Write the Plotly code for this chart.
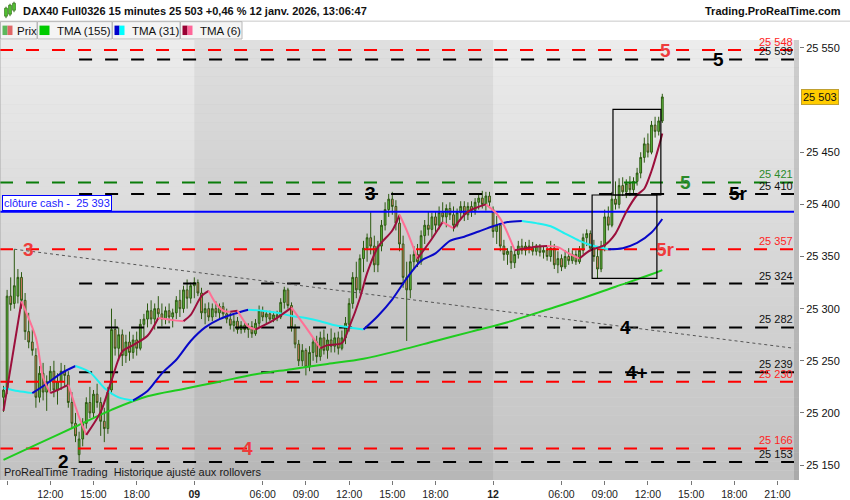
import plotly.graph_objects as go

# DAX40 Full0326, 15-minute bars, 8 janv. 08:45 -> 12 janv. 13:00.
# x of a bar = its index (closed-market hours are skipped, as on the original chart)
opens = [
    25215, 25222, 25312, 25305, 25312, 25330, 25308, 25278, 25268, 25255,
    25215, 25238, 25220, 25230, 25240, 25222, 25230, 25240, 25236, 25210,
    25190, 25160, 25175, 25190, 25210, 25200, 25218, 25210, 25192, 25185,
    25222, 25280, 25262, 25275, 25255, 25268, 25258, 25270, 25262, 25285,
    25290, 25298, 25290, 25300, 25295, 25290, 25298, 25292, 25296, 25308,
    25300, 25318, 25310, 25322, 25325, 25315, 25296, 25300, 25292, 25300,
    25296, 25302, 25295, 25290, 25284, 25288, 25280, 25284, 25280, 25283,
    25276, 25286, 25298, 25292, 25295, 25290, 25294, 25292, 25306, 25318,
    25303, 25282, 25266, 25250, 25260, 25244, 25258, 25268, 25254, 25272,
    25260, 25270, 25264, 25272, 25262, 25272, 25285, 25305, 25330, 25318,
    25348, 25358, 25368, 25360, 25342, 25360, 25380, 25395, 25405, 25398,
    25382, 25362, 25330, 25318, 25345, 25352, 25345, 25370, 25380, 25376,
    25388, 25380, 25392, 25388, 25396, 25390, 25380, 25392, 25398, 25390,
    25398, 25394, 25402, 25406, 25400, 25408, 25395, 25374, 25380, 25360,
    25352, 25355, 25344, 25352, 25360, 25356, 25360, 25358, 25355, 25360,
    25354, 25356, 25350, 25358, 25342, 25348, 25340, 25350, 25346, 25352,
    25345, 25356, 25368, 25372, 25358, 25350, 25338, 25360, 25388, 25380,
    25405, 25400, 25418, 25412, 25420, 25414, 25422, 25430, 25445, 25458,
    25450, 25476, 25470, 25480,
]
highs = [
    25226, 25318, 25330, 25357, 25338, 25335, 25315, 25296, 25280, 25262,
    25245, 25248, 25236, 25245, 25250, 25238, 25248, 25246, 25240, 25220,
    25200, 25182, 25195, 25215, 25225, 25222, 25228, 25215, 25205, 25225,
    25300, 25290, 25282, 25280, 25275, 25278, 25275, 25278, 25290, 25295,
    25305, 25308, 25305, 25312, 25305, 25302, 25305, 25300, 25312, 25318,
    25322, 25328, 25325, 25330, 25328, 25320, 25305, 25306, 25305, 25307,
    25305, 25306, 25300, 25296, 25294, 25292, 25288, 25287, 25286, 25288,
    25290, 25303, 25302, 25298, 25298, 25297, 25298, 25310, 25321, 25320,
    25306, 25285, 25270, 25266, 25262, 25264, 25272, 25274, 25278, 25280,
    25276, 25281, 25277, 25278, 25279, 25292, 25310, 25335, 25345, 25352,
    25365, 25372, 25393, 25370, 25365, 25385, 25402, 25410, 25412, 25404,
    25390, 25370, 25345, 25352, 25360, 25362, 25375, 25385, 25393, 25392,
    25393, 25398, 25402, 25400, 25402, 25398, 25396, 25403, 25403, 25402,
    25403, 25406, 25410, 25413, 25412, 25412, 25398, 25389, 25382, 25366,
    25358, 25360, 25356, 25365, 25367, 25364, 25366, 25364, 25362, 25362,
    25360, 25360, 25365, 25362, 25355, 25352, 25356, 25358, 25356, 25356,
    25360, 25372, 25376, 25375, 25366, 25360, 25365, 25395, 25398, 25412,
    25422, 25425, 25426, 25424, 25427, 25426, 25435, 25450, 25464, 25468,
    25480, 25484, 25484, 25506,
]
lows = [
    25201, 25218, 25298, 25300, 25305, 25300, 25270, 25262, 25255, 25205,
    25210, 25212, 25202, 25220, 25215, 25208, 25222, 25225, 25205, 25185,
    25172, 25152, 25168, 25185, 25195, 25195, 25205, 25178, 25172, 25180,
    25218, 25255, 25250, 25245, 25248, 25250, 25252, 25255, 25260, 25272,
    25282, 25285, 25280, 25290, 25283, 25285, 25286, 25282, 25290, 25292,
    25296, 25300, 25305, 25310, 25312, 25290, 25285, 25288, 25288, 25292,
    25290, 25291, 25286, 25280, 25278, 25276, 25276, 25277, 25272, 25272,
    25274, 25282, 25288, 25286, 25288, 25287, 25288, 25290, 25300, 25300,
    25278, 25262, 25245, 25245, 25236, 25240, 25250, 25248, 25250, 25256,
    25252, 25258, 25258, 25256, 25260, 25266, 25278, 25300, 25310, 25315,
    25335, 25345, 25352, 25335, 25335, 25355, 25375, 25388, 25390, 25375,
    25355, 25320, 25269, 25310, 25338, 25340, 25342, 25362, 25370, 25368,
    25372, 25376, 25382, 25378, 25385, 25374, 25378, 25386, 25384, 25385,
    25388, 25390, 25395, 25396, 25394, 25398, 25368, 25362, 25355, 25346,
    25342, 25338, 25339, 25348, 25352, 25351, 25353, 25351, 25351, 25350,
    25348, 25346, 25345, 25338, 25334, 25336, 25338, 25342, 25343, 25342,
    25343, 25352, 25360, 25355, 25345, 25329, 25335, 25355, 25375, 25378,
    25395, 25396, 25408, 25406, 25408, 25410, 25418, 25425, 25440, 25445,
    25448, 25464, 25466, 25478,
]
closes = [
    25222, 25312, 25304, 25322, 25330, 25308, 25278, 25268, 25260, 25215,
    25238, 25220, 25230, 25240, 25222, 25230, 25240, 25236, 25210, 25190,
    25178, 25175, 25190, 25210, 25200, 25218, 25210, 25192, 25185, 25220,
    25280, 25262, 25275, 25255, 25268, 25258, 25270, 25262, 25285, 25290,
    25298, 25290, 25300, 25295, 25290, 25298, 25292, 25296, 25308, 25300,
    25318, 25310, 25322, 25325, 25315, 25296, 25300, 25292, 25300, 25296,
    25302, 25295, 25290, 25284, 25288, 25280, 25284, 25280, 25283, 25276,
    25286, 25298, 25292, 25295, 25290, 25294, 25292, 25306, 25318, 25303,
    25282, 25266, 25250, 25260, 25244, 25258, 25268, 25254, 25272, 25260,
    25270, 25264, 25272, 25262, 25272, 25286, 25305, 25330, 25318, 25348,
    25358, 25368, 25360, 25342, 25360, 25380, 25395, 25405, 25398, 25382,
    25362, 25330, 25318, 25345, 25352, 25345, 25370, 25380, 25376, 25388,
    25380, 25392, 25388, 25396, 25390, 25380, 25392, 25398, 25390, 25398,
    25394, 25402, 25406, 25400, 25408, 25402, 25374, 25380, 25360, 25352,
    25355, 25344, 25352, 25360, 25356, 25360, 25358, 25355, 25360, 25354,
    25356, 25350, 25358, 25342, 25348, 25340, 25350, 25346, 25352, 25345,
    25356, 25368, 25372, 25358, 25350, 25338, 25360, 25388, 25380, 25405,
    25400, 25418, 25412, 25420, 25414, 25422, 25430, 25445, 25458, 25450,
    25476, 25470, 25480, 25503,
]
last_price = 25503

# first bar of the 9 and 12 janv. sessions
session_start_bars = [53, 136]

# time axis
xtick_bars = [1, 13, 25, 37, 53, 72, 84, 96, 108, 120, 136, 155, 167, 179, 191, 203, 215]
xtick_text = ["", "12:00", "15:00", "18:00", "<b>09</b>", "06:00", "09:00", "12:00",
              "15:00", "18:00", "<b>12</b>", "06:00", "09:00", "12:00", "15:00", "18:00", "21:00"]
# 25 500 is hidden behind the last-price tag on the original
ytick_vals = [25150, 25200, 25250, 25300, 25350, 25400, 25450, 25550]

# indicators
tma155_bars = [0, 10, 20, 30, 40, 50, 60, 70, 80, 90, 100, 110, 120, 130, 140, 150, 160, 170, 180, 183]
tma155_vals = [25155, 25171, 25187, 25203, 25216, 25223, 25230, 25237, 25242, 25247,
               25252, 25260, 25269, 25278, 25287, 25298, 25309, 25321, 25333, 25337]

tma31_bars = [0, 4, 8, 12, 16, 20, 24, 28, 32, 36, 40, 44, 48, 52, 56, 60, 64, 68, 72, 76,
              80, 84, 88, 92, 96, 100, 104, 108, 112, 116, 120, 124, 128, 132, 136, 140,
              144, 148, 152, 156, 160, 164, 168, 172, 176, 180, 183]
tma31_vals = [25224, 25221, 25219, 25228, 25238, 25245, 25239, 25224, 25215, 25212,
              25221, 25238, 25251, 25269, 25282, 25290, 25295, 25299, 25298, 25296,
              25293, 25291, 25288, 25284, 25282, 25280, 25293, 25309, 25329, 25346,
              25353, 25365, 25369, 25374, 25379, 25383, 25384, 25382, 25379, 25372,
              25365, 25360, 25357, 25358, 25363, 25373, 25386]

tma6_bars = [0, 5, 9, 11, 13, 15, 18, 21, 23, 27, 30, 33, 36, 40, 43, 47, 50, 52, 55, 57,
             59, 61, 63, 65, 68, 70, 75, 80, 84, 88, 90, 94, 96, 99, 101, 104, 108, 110,
             112, 115, 119, 122, 125, 129, 134, 137, 139, 142, 147, 151, 154, 157, 160,
             163, 167, 170, 173, 176, 178, 180, 182, 183]
tma6_vals = [25202, 25307, 25272, 25234, 25219, 25222, 25227, 25196, 25179, 25201,
             25231, 25259, 25265, 25274, 25291, 25289, 25288, 25294, 25312, 25317,
             25305, 25298, 25297, 25298, 25283, 25280, 25289, 25301, 25282, 25262,
             25265, 25267, 25282, 25310, 25334, 25359, 25375, 25390, 25375, 25348,
             25367, 25383, 25377, 25393, 25400, 25391, 25380, 25356, 25359, 25360,
             25359, 25353, 25348, 25356, 25361, 25372, 25393, 25409, 25415, 25432,
             25455, 25468]

# support / resistance levels drawn on the chart
level_prices = [25548, 25539, 25421, 25410, 25357, 25324, 25282, 25239, 25230, 25166, 25153]
level_kind = ["red", "black", "green", "black", "red", "black", "black", "black", "red", "red", "black"]
cash_close = 25393
black_level_first_bar = 21          # black levels start at the low of bar 21

trend_bars = [3, 219.6]
trend_prices = [25357, 25262]

box_bars = [(163.5, 181.5), (169.3, 182.6)]
box_prices = [(25329, 25409), (25409, 25491)]

# ---------------------------------------------------------------- geometry / styles
FONT = "Liberation Sans, Arial, sans-serif"
BAR_X0, BAR_PX = 3.5, 3.6                 # pixel of bar 0, pixels per bar
PLOT_W, PLOT_T, PLOT_B = 799, 40, 483
x_range = [-BAR_X0 / BAR_PX, (PLOT_W - BAR_X0) / BAR_PX]
y_range = [25135.7, 25557.6]
x_edge = (794 - BAR_X0) / BAR_PX

LINE_COL = {"red": "#ff0000", "black": "#000000", "green": "#0a7d0a"}
LABEL_COL = {"red": "#ff1f1f", "black": "#111111", "green": "#2a8a2a"}
MARK_COL = {"red": "#ee3c3c", "black": "#000000", "green": "#2a8a2a"}


def bar_at(x_px):
    return (x_px - BAR_X0) / BAR_PX


def px(x):
    return x / PLOT_W


def py(y):
    return (PLOT_B - y) / (PLOT_B - PLOT_T)


def fmt(v):
    return f"{v:,}".replace(",", " ")


def slope_runs(vals):
    """split a line into rising / falling stretches (for two-colour averages)"""
    runs, start = [], 0
    up = vals[1] >= vals[0]
    for k in range(1, len(vals) - 1):
        d = vals[k + 1] - vals[k]
        nxt = up if d == 0 else d > 0
        if nxt != up:
            runs.append((start, k, up))
            start, up = k, nxt
    runs.append((start, len(vals) - 1, up))
    return runs


fig = go.Figure()

fig.add_trace(go.Candlestick(
    x=list(range(len(closes))), open=opens, high=highs, low=lows, close=closes,
    increasing=dict(fillcolor="#5fbf3f", line=dict(color="#2d5a12", width=1)),
    decreasing=dict(fillcolor="#ea7f70", line=dict(color="#2d5a12", width=1)),
    whiskerwidth=0, hoverinfo="skip",
))

# horizontal levels
for price, kind in zip(level_prices, level_kind):
    x0 = black_level_first_bar if kind == "black" else x_range[0]
    fig.add_trace(go.Scatter(
        x=[x0, x_edge], y=[price, price], mode="lines", hoverinfo="skip",
        line=dict(color=LINE_COL[kind], width=2, dash="13px,13px"),
    ))

fig.add_trace(go.Scatter(
    x=[x_range[0], x_edge], y=[cash_close, cash_close], mode="lines", hoverinfo="skip",
    line=dict(color="#0000ff", width=2),
))
fig.add_trace(go.Scatter(
    x=trend_bars, y=trend_prices, mode="lines", hoverinfo="skip",
    line=dict(color="#555555", width=1, dash="3px,3px"),
))

# moving averages
fig.add_trace(go.Scatter(
    x=tma155_bars, y=tma155_vals, mode="lines", hoverinfo="skip",
    line=dict(color="#1fcc1f", width=2, shape="spline"),
))
for bars, vals, up_col, down_col in [
    (tma31_bars, tma31_vals, "#0808c8", "#20f0f0"),
    (tma6_bars, tma6_vals, "#9c0f3c", "#ff7095"),
]:
    for s, e, up in slope_runs(vals):
        fig.add_trace(go.Scatter(
            x=bars[s:e + 1], y=vals[s:e + 1], mode="lines", hoverinfo="skip",
            line=dict(color=up_col if up else down_col, width=2, shape="spline", smoothing=0.8),
        ))

shapes = []
# background: vertical gradient + darker band for 9 janv.
n_bands = 48
for k in range(n_bands):
    g = round(194 + (236 - 194) * (k + 0.5) / n_bands)
    shapes.append(dict(type="rect", xref="paper", yref="paper", x0=0, x1=1,
                       y0=k / n_bands, y1=(k + 1) / n_bands, layer="below",
                       line=dict(width=0), fillcolor=f"rgb({g},{g},{g})"))
shapes.append(dict(type="rect", xref="x", yref="paper", x0=session_start_bars[0],
                   x1=session_start_bars[1], y0=0, y1=1, layer="below",
                   line=dict(width=0), fillcolor="rgba(0,0,0,0.055)"))
shapes.append(dict(type="rect", xref="paper", yref="paper", x0=px(794), x1=1, y0=0, y1=1,
                   layer="below", line=dict(width=0), fillcolor="rgba(0,0,0,0.12)"))
shapes.append(dict(type="line", xref="paper", yref="paper", x0=0, x1=0, y0=0, y1=py(21),
                   line=dict(color="#a8a8a8", width=1)))

for (b0, b1), (p0, p1) in zip(box_bars, box_prices):
    shapes.append(dict(type="rect", xref="x", yref="y", x0=b0, x1=b1, y0=p0, y1=p1,
                       line=dict(color="#000000", width=1.2)))

# header rows
shapes.append(dict(type="line", xref="paper", yref="paper", x0=0, x1=850 / PLOT_W,
                   y0=py(21), y1=py(21), line=dict(color="#c8c8c8", width=1)))
legend_items = [
    (0, 37, 15, "Prix", ["#5cb85c", "#e06666"]),
    (37, 112, 55, "TMA (155)", ["#00cc00"]),
    (112, 180, 130, "TMA (31)", ["#0000cc", "#00ffff"]),
    (180, 242, 198, "TMA (6)", ["#990033", "#ff6699"]),
]
annotations = []
for x0, x1, tx, label, cols in legend_items:
    shapes.append(dict(type="rect", xref="paper", yref="paper", x0=px(x0 + 0.5), x1=px(x1),
                       y0=py(39), y1=py(21.5), fillcolor="#f4f4f4",
                       line=dict(color="#b8b8b8", width=1)))
    sw = 10 / len(cols)
    for j, c in enumerate(cols):
        shapes.append(dict(type="rect", xref="paper", yref="paper",
                           x0=px(x0 + 2.5 + j * sw), x1=px(x0 + 2.5 + (j + 1) * sw),
                           y0=py(35), y1=py(25.5), fillcolor=c, line=dict(width=0)))
    annotations.append(dict(xref="paper", yref="paper", x=px(tx), y=py(30.5), text=label,
                            showarrow=False, xanchor="left", yanchor="middle",
                            font=dict(size=11.5, color="#111111", family=FONT)))

# candle icon next to the title
for cx, top, bot in [(6, 8, 16), (10, 5, 14), (14, 3, 10)]:
    shapes.append(dict(type="line", xref="paper", yref="paper", x0=px(cx), x1=px(cx),
                       y0=py(bot + 2), y1=py(top - 1.5), line=dict(color="#2d6a12", width=1)))
    shapes.append(dict(type="rect", xref="paper", yref="paper", x0=px(cx - 1.5), x1=px(cx + 1.5),
                       y0=py(bot), y1=py(top), fillcolor="#4fbf2f", line=dict(color="#2d6a12", width=0.6)))

annotations += [
    dict(xref="paper", yref="paper", x=px(21), y=py(10.5), xanchor="left", yanchor="middle",
         text="<b>DAX40 Full0326 15 minutes 25 503 +0,46 % 12 janv. 2026, 13:06:47</b>",
         showarrow=False, font=dict(size=11, color="#111111", family=FONT)),
    dict(xref="paper", yref="paper", x=px(843), y=py(10.5), xanchor="right", yanchor="middle",
         text="<b>Trading.ProRealTime.com</b>", showarrow=False,
         font=dict(size=11, color="#111111", family=FONT)),
    dict(xref="paper", yref="paper", x=px(2), y=py(475), xanchor="left", yanchor="middle",
         text="ProRealTime Trading\u00a0 Historique ajusté aux rollovers", showarrow=False,
         font=dict(size=11, color="#1a1a1a", family=FONT)),
    dict(xref="paper", yref="y", x=px(1.5), y=cash_close, xanchor="left", yanchor="bottom",
         yshift=1, text=f"clôture cash -\u00a0 {fmt(cash_close)}", showarrow=False,
         bgcolor="#ffffff", bordercolor="#0000ff", borderwidth=1, borderpad=1,
         font=dict(size=11, color="#1c1cff", family=FONT)),
    dict(xref="paper", yref="y", x=px(801), y=last_price, xanchor="left", yanchor="middle",
         text=fmt(last_price), showarrow=False, bgcolor="#ffcc00", bordercolor="#c0a030",
         borderwidth=1, borderpad=1, font=dict(size=11, color="#111111", family=FONT)),
]

# price value at the right end of each level
for price, kind in zip(level_prices, level_kind):
    annotations.append(dict(xref="paper", yref="y", x=px(795), y=price, xanchor="right",
                            yanchor="middle", yshift=8, text=fmt(price), showarrow=False,
                            font=dict(size=11, color=LABEL_COL[kind], family=FONT)))

# big wave labels sitting on the levels: (text, level, pixel x, kind)
wave_labels = [
    ("5", 25548, 665, "red"), ("5", 25539, 718, "black"), ("5", 25421, 685, "green"),
    ("5r", 25410, 738, "black"), ("5r", 25357, 665, "red"), ("3", 25357, 28, "red"),
    ("3", 25410, 370, "black"), ("4", 25282, 625, "black"), ("4+", 25239, 637, "black"),
    ("4", 25166, 247, "red"), ("2", 25153, 63, "black"),
]
for text, level, xp, kind in wave_labels:
    annotations.append(dict(xref="x", yref="y", x=bar_at(xp), y=level, xanchor="center",
                            yanchor="middle", text=f"<b>{text}</b>", showarrow=False,
                            font=dict(size=19, color=MARK_COL[kind], family=FONT)))

fig.update_layout(
    width=850, height=500,
    margin=dict(l=0, r=850 - PLOT_W, t=PLOT_T, b=500 - PLOT_B),
    paper_bgcolor="#ffffff", plot_bgcolor="#d8d8d8",
    showlegend=False, separators=", ",
    font=dict(family=FONT, size=11, color="#111111"),
    shapes=shapes, annotations=annotations,
    xaxis=dict(range=x_range, rangeslider=dict(visible=False), showgrid=False,
               zeroline=False, tickmode="array", tickvals=xtick_bars, ticktext=xtick_text,
               ticks="outside", ticklen=4, tickcolor="#777777",
               tickfont=dict(size=10.5, color="#222222", family=FONT)),
    yaxis=dict(range=y_range, side="right", showgrid=False, zeroline=False,
               tickmode="array", tickvals=ytick_vals, tickformat=",d",
               ticks="outside", ticklen=4, tickcolor="#777777",
               tickfont=dict(size=11, color="#111111", family=FONT)),
)

# the page's default 8px body margin would push the 850x500 figure off-window
fig.write_html("out.html", config={"displayModeBar": False},
               post_script="document.body.style.margin='0px';"
                           "document.body.style.overflow='hidden';")
